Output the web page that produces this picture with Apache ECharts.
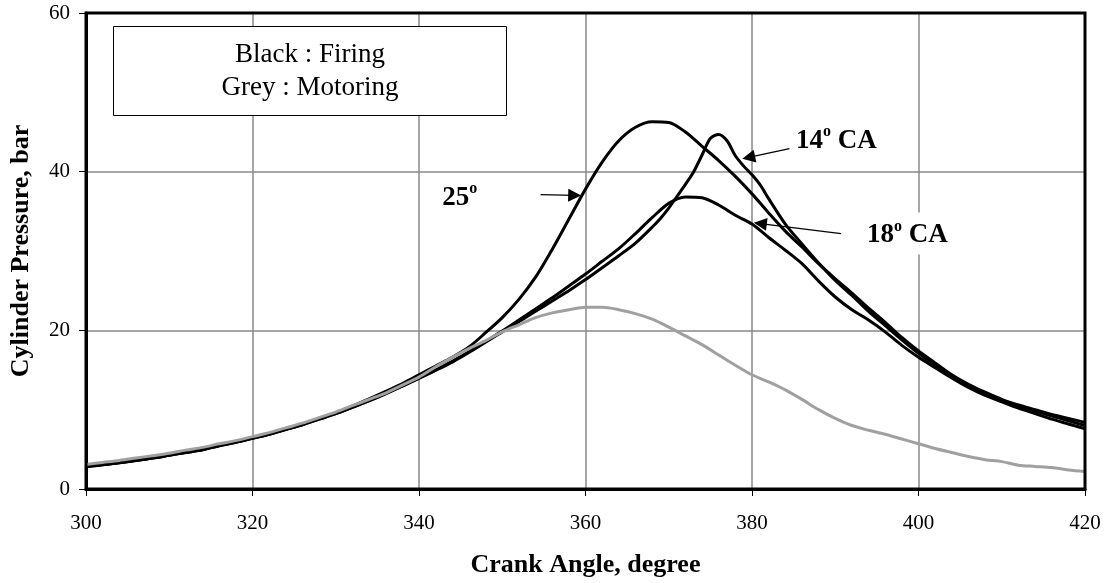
<!DOCTYPE html>
<html>
<head>
<meta charset="utf-8">
<script src="https://cdn.jsdelivr.net/npm/echarts@6/dist/echarts.min.js"></script>
<style>
  html, body { margin: 0; padding: 0; background: #fff; }
  #chart { width: 1107px; height: 583px; }
</style>
</head>
<body>
<div id="chart"></div>
<script>
// Crank angle grid (degrees) shared by the 25°, 18° and motoring traces
const angle = [300,302,304,306,308,310,312,314,316,318,320,322,324,326,328,330,332,334,336,338,
  340,342,344,346,348,350,352,354,356,358,360,362,364,366,368,370,372,374,376,378,
  380,382,384,386,388,390,392,394,396,398,400,402,404,406,408,410,412,414,416,418,420];

// Firing, 25° injection timing (bar)
const firing25 = [2.9,3.1,3.35,3.65,3.95,4.3,4.65,5.0,5.5,5.95,6.45,6.95,7.55,8.2,8.9,9.6,10.45,11.35,12.3,13.3,
  14.4,15.5,16.6,17.9,19.7,21.6,23.9,26.7,30.2,34.0,37.8,41.2,43.9,45.6,46.3,46.2,45.0,43.2,41.4,39.4,
  37.2,34.8,32.5,30.5,28.4,26.5,24.7,22.8,21.0,19.1,17.4,15.9,14.4,13.2,12.2,11.3,10.6,10.0,9.4,8.9,8.4];

// Firing, 18° CA (bar)
const firing18 = [2.85,3.05,3.3,3.6,3.9,4.25,4.6,4.95,5.45,5.9,6.4,6.9,7.5,8.1,8.8,9.5,10.3,11.15,12.05,13.0,
  14.0,15.0,16.1,17.3,18.6,19.9,21.3,22.7,24.1,25.6,27.1,28.7,30.3,32.2,34.2,36.0,36.8,36.7,35.8,34.5,
  33.4,31.7,30.1,28.4,26.2,24.2,22.6,21.3,19.8,18.1,16.6,15.3,14.0,12.8,11.8,11.0,10.2,9.5,8.8,8.2,7.6];

// Firing, 14° CA, sampled more finely around its sharp peak
const angle14 = [300,302,304,306,308,310,312,314,316,318,320,322,324,326,328,330,332,334,336,338,
  340,342,344,346,348,350,352,354,356,358,360,362,364,366,368,369,370,371,372,373,374,375,376,377,
  378,379,380,381,382,384,386,388,390,392,394,396,398,400,402,404,406,408,410,412,414,416,418,420];
const firing14 = [2.8,3.05,3.3,3.6,3.9,4.25,4.6,4.95,5.45,5.9,6.4,6.9,7.5,8.1,8.8,9.5,10.3,11.1,12.0,12.95,
  13.95,14.95,16.0,17.2,18.5,19.8,21.1,22.4,23.7,25.0,26.4,27.9,29.4,31.0,33.0,34.1,35.4,36.9,38.4,40.0,42.1,44.2,44.7,43.9,
  42.0,40.7,39.6,38.3,36.6,33.4,30.9,28.5,26.3,24.4,22.4,20.6,18.8,17.1,15.6,14.2,13.0,12.0,11.2,10.4,9.8,9.2,8.6,8.0];

// Motoring trace (bar)
const motoring = [3.1,3.35,3.6,3.9,4.2,4.5,4.9,5.25,5.7,6.1,6.6,7.1,7.7,8.3,9.0,9.7,10.5,11.3,12.1,13.1,
  14.1,15.4,16.6,17.7,18.7,19.8,20.7,21.6,22.2,22.6,22.9,22.9,22.6,22.1,21.4,20.4,19.3,18.2,16.9,15.6,
  14.4,13.5,12.5,11.3,10.0,8.9,8.0,7.4,6.9,6.3,5.7,5.1,4.6,4.1,3.7,3.45,3.0,2.85,2.7,2.4,2.2];

const xTicks = [300, 320, 340, 360, 380, 400, 420];
const yTicks = [0, 20, 40, 60];

const serif = '"Liberation Serif", "Times New Roman", serif';
const pairs = (xs, ys) => xs.map((x, i) => [x, ys[i]]);

const chart = echarts.init(document.getElementById('chart'), null, { renderer: 'canvas' });

const blackLine = { color: '#000', width: 3 };

chart.setOption({
  animation: false,
  backgroundColor: '#fff',
  grid: { left: 85, right: 22, top: 13, bottom: 91 },
  xAxis: {
    type: 'value',
    min: xTicks[0], max: xTicks[xTicks.length - 1], interval: 20,
    name: 'Crank Angle, degree',
    nameLocation: 'middle', nameGap: 63,
    nameTextStyle: { fontFamily: serif, fontWeight: 'bold', fontSize: 26, color: '#000' },
    axisLine: { show: true, lineStyle: { color: '#000', width: 3 } },
    axisTick: { show: true, inside: false, length: 7, lineStyle: { color: '#000', width: 1 } },
    axisLabel: { fontFamily: serif, fontSize: 21, color: '#000', margin: 24 },
    splitLine: { show: true, lineStyle: { color: '#888', width: 1.5 } }
  },
  yAxis: {
    type: 'value',
    min: yTicks[0], max: yTicks[yTicks.length - 1], interval: 20,
    name: 'Cylinder Pressure, bar',
    nameLocation: 'middle', nameGap: 52,
    nameTextStyle: { fontFamily: serif, fontWeight: 'bold', fontSize: 26, color: '#000' },
    axisLine: { show: true, lineStyle: { color: '#000', width: 3 } },
    axisTick: { show: true, inside: false, length: 7, lineStyle: { color: '#000', width: 1 } },
    axisLabel: { fontFamily: serif, fontSize: 21, color: '#000', margin: 16 },
    splitLine: { show: true, lineStyle: { color: '#888', width: 1.5 } }
  },
  series: [
    {
      name: '25°', type: 'line', data: pairs(angle, firing25), showSymbol: false, smooth: 0.3,
      lineStyle: blackLine, z: 3,
      markLine: {
        silent: true, symbol: ['none', 'triangle'], symbolSize: 13,
        label: { show: false },
        lineStyle: { color: '#000', width: 1.3, type: 'solid' },
        data: [
          [{ coord: [354.6, 37.1] }, { coord: [358.7, 37.0] }],
          [{ coord: [384.5, 42.9] }, { coord: [379.6, 41.8] }],
          [{ coord: [390.7, 32.2] }, { coord: [381.0, 33.45] }]
        ]
      }
    },
    { name: '18° CA', type: 'line', data: pairs(angle, firing18), showSymbol: false, smooth: 0.3, lineStyle: blackLine, z: 3 },
    { name: '14° CA', type: 'line', data: pairs(angle14, firing14), showSymbol: false, smooth: 0.3, lineStyle: blackLine, z: 3 },
    { name: 'Motoring', type: 'line', data: pairs(angle, motoring), showSymbol: false, smooth: 0.3,
      lineStyle: { color: '#a0a0a0', width: 3 }, z: 4 }
  ]
});

// Curve labels with superscript degree mark, placed in data space
const richLabel = {
  n: { fontFamily: serif, fontWeight: 'bold', fontSize: 27, color: '#000', lineHeight: 30, verticalAlign: 'bottom' },
  s: { fontFamily: serif, fontWeight: 'bold', fontSize: 16, color: '#000', lineHeight: 30, verticalAlign: 'top' }
};
function curveLabel(at, text, bg) {
  const p = chart.convertToPixel({ gridIndex: 0 }, at);
  return {
    type: 'text', x: p[0], y: p[1], z: 10,
    style: {
      text: text, rich: richLabel, align: 'left', verticalAlign: 'middle',
      backgroundColor: bg ? '#fff' : 'transparent', padding: bg ? [6, 5, 6, 5] : 0
    }
  };
}

// Heavy plot frame drawn above the grid lines
const c0 = chart.convertToPixel({ gridIndex: 0 }, [xTicks[0], yTicks[yTicks.length - 1]]);
const c1 = chart.convertToPixel({ gridIndex: 0 }, [xTicks[xTicks.length - 1], yTicks[0]]);

chart.setOption({
  graphic: [
    { type: 'rect', z: 20, silent: true,
      shape: { x: c0[0], y: c0[1], width: c1[0] - c0[0], height: c1[1] - c0[1] },
      style: { fill: null, stroke: '#000', lineWidth: 3 } },
    {
      type: 'group', left: 113, top: 26, z: 10,
      children: [
        { type: 'rect', shape: { x: 0, y: 0, width: 393, height: 89 },
          style: { fill: '#fff', stroke: '#000', lineWidth: 1 } },
        { type: 'text', x: 196.5, y: 45,
          style: { text: 'Black : Firing\nGrey : Motoring', fontFamily: serif, fontSize: 27,
                   lineHeight: 33, fill: '#000', align: 'center', verticalAlign: 'middle' } }
      ]
    },
    curveLabel([342.8, 36.9], '{n|25}{s|o}', false),
    curveLabel([385.3, 44.1], '{n|14}{s|o}{n| CA}', false),
    curveLabel([393.2, 32.2], '{n|18}{s|o}{n| CA}', true)
  ]
});
</script>
</body>
</html>
